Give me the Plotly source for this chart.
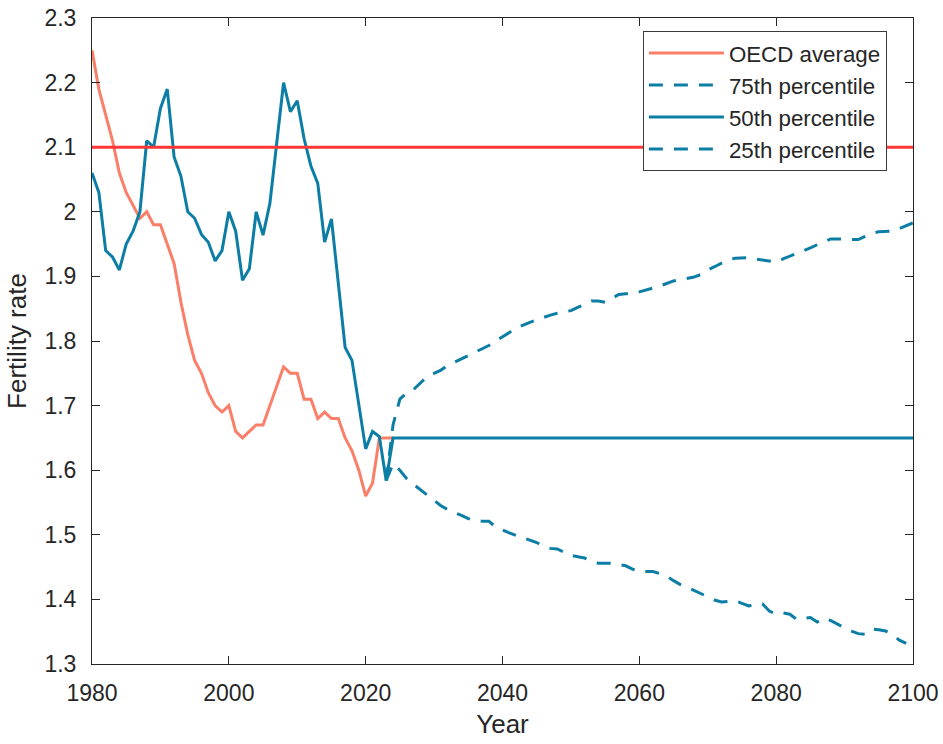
import plotly.graph_objects as go

# ---------------- data ----------------
oecd_years = list(range(1980, 2025))
oecd_avg = [2.25, 2.19, 2.15, 2.11, 2.06, 2.03, 2.01, 1.99, 2.00, 1.98,
            1.98, 1.95, 1.92, 1.86, 1.81, 1.77, 1.75, 1.72, 1.70, 1.69,
            1.70, 1.66, 1.65, 1.66, 1.67, 1.67, 1.70, 1.73, 1.76, 1.75,
            1.75, 1.71, 1.71, 1.68, 1.69, 1.68, 1.68, 1.65, 1.63, 1.60,
            1.56, 1.58, 1.65, 1.65, 1.65]

hist_years = list(range(1980, 2024))
p50_hist = [2.06, 2.03, 1.94, 1.93, 1.91, 1.95, 1.97, 2.00, 2.11, 2.10,
            2.16, 2.19, 2.085, 2.055, 2.00, 1.99, 1.965, 1.953, 1.924, 1.94,
            2.00, 1.97, 1.894, 1.912, 2.00, 1.964, 2.013, 2.11, 2.20, 2.155,
            2.172, 2.113, 2.071, 2.044, 1.953, 1.989, 1.889, 1.790, 1.770, 1.705,
            1.633, 1.660, 1.652, 1.584]

proj_years = list(range(2024, 2101))
p75_proj = [1.67, 1.71, 1.72, 1.725, 1.735, 1.745, 1.75, 1.755, 1.762, 1.767,
            1.772, 1.777, 1.783, 1.788, 1.793, 1.80, 1.806, 1.813, 1.82, 1.825,
            1.829, 1.833, 1.837, 1.84, 1.843, 1.845, 1.847, 1.852, 1.857, 1.862,
            1.862, 1.860, 1.866, 1.872, 1.873, 1.873, 1.876, 1.879, 1.881, 1.885,
            1.889, 1.893, 1.895, 1.897, 1.899, 1.903, 1.910, 1.915, 1.921, 1.926,
            1.928, 1.929, 1.929, 1.927, 1.925, 1.923, 1.922, 1.927, 1.931, 1.935,
            1.939, 1.944, 1.949, 1.953, 1.958, 1.958, 1.958, 1.957, 1.957, 1.962,
            1.967, 1.969, 1.969, 1.970, 1.974, 1.978, 1.983]
p50_proj = [1.65 for _ in proj_years]
p25_years = list(range(2024, 2100))
p25_proj = [1.61, 1.60, 1.587, 1.578, 1.57, 1.562, 1.553, 1.545, 1.539, 1.535,
            1.530, 1.525, 1.522, 1.521, 1.521, 1.512, 1.507, 1.503, 1.499, 1.495,
            1.492, 1.488, 1.482, 1.479, 1.478, 1.473, 1.468, 1.466, 1.464, 1.460,
            1.456, 1.456, 1.456, 1.454, 1.452, 1.447, 1.443, 1.443, 1.443, 1.440,
            1.436, 1.429, 1.423, 1.419, 1.414, 1.409, 1.403, 1.399, 1.396, 1.397,
            1.398, 1.394, 1.390, 1.391, 1.393, 1.382, 1.377, 1.379, 1.377, 1.369,
            1.370, 1.372, 1.365, 1.371, 1.367, 1.361, 1.356, 1.351, 1.347, 1.346,
            1.354, 1.353, 1.351, 1.345, 1.337, 1.332]

replacement_rate = 2.1

x_ticks = [1980, 2000, 2020, 2040, 2060, 2080, 2100]
y_ticks = [1.3, 1.4, 1.5, 1.6, 1.7, 1.8, 1.9, 2.0, 2.1, 2.2, 2.3]
y_tick_text = ["1.3", "1.4", "1.5", "1.6", "1.7", "1.8", "1.9", "2", "2.1", "2.2", "2.3"]

# ---------------- figure ----------------
ORANGE = "#FB7E68"
BLUE = "#0C7EA6"
RED = "rgb(255,55,55)"
TEXT = "#262626"
DASH = "14px,11px"
FONT = "Liberation Sans, Arial"

fig = go.Figure()
fig.add_trace(go.Scatter(x=oecd_years, y=oecd_avg, mode="lines", name="OECD average",
                         line=dict(color=ORANGE, width=3)))
fig.add_trace(go.Scatter(x=[hist_years[-1]] + proj_years, y=[p50_hist[-1]] + p75_proj,
                         mode="lines", name="75th percentile",
                         line=dict(color=BLUE, width=3, dash=DASH)))
fig.add_trace(go.Scatter(x=hist_years + proj_years, y=p50_hist + p50_proj,
                         mode="lines", name="50th percentile",
                         line=dict(color=BLUE, width=3)))
fig.add_trace(go.Scatter(x=[hist_years[-1]] + p25_years, y=[p50_hist[-1]] + p25_proj,
                         mode="lines", name="25th percentile",
                         line=dict(color=BLUE, width=3, dash=DASH)))

fig.add_hline(y=replacement_rate, line=dict(color=RED, width=3), layer="above")

axis_common = dict(
    showline=True, linecolor=TEXT, linewidth=1, mirror="allticks",
    ticks="inside", ticklen=8, tickcolor=TEXT, tickwidth=1,
    showgrid=False, zeroline=False, automargin=False,
    tickfont=dict(family=FONT, size=23, color=TEXT),
    title_font=dict(family=FONT, size=26, color=TEXT),
)

fig.update_xaxes(range=[1980, 2100], tickvals=x_ticks, title_text="Year",
                 ticklabelstandoff=8, title_standoff=10, **axis_common)
fig.update_yaxes(range=[1.3, 2.3], tickvals=y_ticks, ticktext=y_tick_text,
                 title_text="Fertility rate", ticklabelstandoff=10, title_standoff=10,
                 **axis_common)

fig.update_layout(
    width=943, height=744,
    margin=dict(l=92, r=30, t=18, b=80),
    paper_bgcolor="white", plot_bgcolor="white",
    font=dict(family=FONT, color=TEXT),
    legend=dict(x=0.671, y=0.980, xanchor="left", yanchor="top",
                bgcolor="white", bordercolor="#3a3a3a", borderwidth=1,
                font=dict(family=FONT, size=22.3, color=TEXT),
                itemwidth=75, tracegroupgap=0),
    showlegend=True,
)

fig.write_html("out.html")
